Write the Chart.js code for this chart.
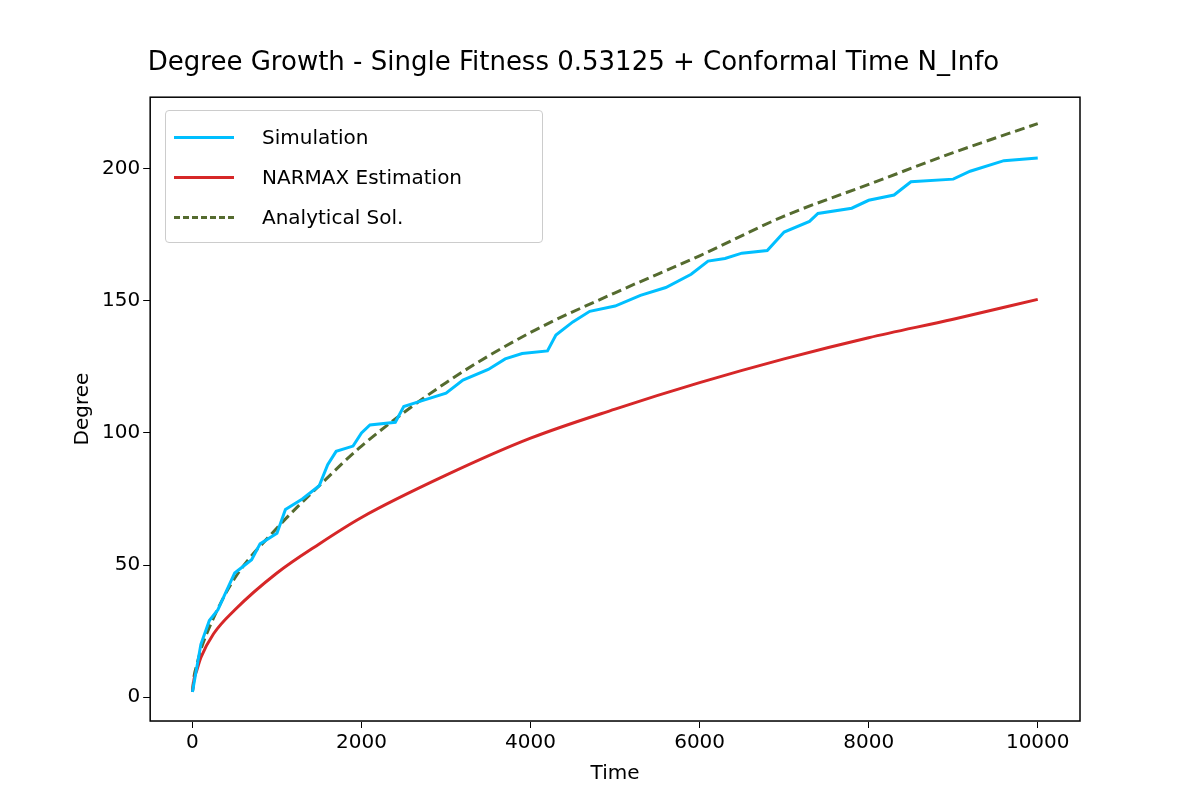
<!DOCTYPE html>
<html>
<head>
<meta charset="utf-8">
<script src="https://cdn.jsdelivr.net/npm/chart.js@4/dist/chart.umd.min.js"></script>
<style>
  body { margin: 0; background: #fff; }
  #wrap { position: relative; width: 1200px; height: 800px; }
  #legend { position: absolute; left: 165px; top: 110px; width: 378px; height: 133px;
    border: 1px solid #ccc; border-radius: 4px; background: rgba(255,255,255,0.85);
    font-family: "DejaVu Sans", sans-serif; font-size: 20px; color: #000; box-sizing: border-box; padding-top: 6px; }
  .row { display: flex; align-items: center; height: 40px; }
  .sw { width: 60px; margin: 0 28px 0 8px; border-top: 3px solid; }
</style>
</head>
<body>
<div id="wrap">
  <canvas id="chart" width="1200" height="800"></canvas>
  <div id="legend">
    <div class="row"><span class="sw" style="border-color:#00bfff"></span>Simulation</div>
    <div class="row"><span class="sw" style="border-color:#d62728"></span>NARMAX Estimation</div>
    <div class="row"><span class="sw" style="border-color:#556b2f;border-top-style:dashed"></span>Analytical Sol.</div>
  </div>
</div>
<script>
// values
const simTime = [0,100,200,300,400,500,700,800,1000,1100,1300,1500,1600,1700,1900,2000,2100,2400,2500,2700,3000,3200,3500,3700,3900,4200,4300,4500,4700,5000,5300,5600,5900,6100,6300,6500,6800,7000,7300,7400,7800,8000,8300,8500,9000,9200,9600,10000];
const simDegree = [2,20,29,33,40,47,52,58,62,71,75,80,88,93,95,100,103,104,110,112,115,120,124,128,130,131,137,142,146,148,152,155,160,165,166,168,169,176,180,183,185,188,190,195,196,199,203,204];

const modelTime = [0,20,50,100,250,500,1000,1500,2000,3000,4000,5000,6000,7000,8000,9000,10000];
const narmaxDegree = [2,7,10,15,24,33,47,58,68,84,98,109,119,128,136,143,150.5];
const analyticDegree = [2,8,12,18,30,45,64,80,95,119,138,153,167,182,194,206,217];

const xTicks = [0,2000,4000,6000,8000,10000];
const yTicks = [0,50,100,150,200];

const toXY = (xs, ys) => xs.map((x, i) => ({ x: x, y: ys[i] }));

const frame = {
  id: "frame",
  afterDraw(c) {
    const a = c.chartArea, ctx = c.ctx;
    ctx.save();
    ctx.strokeStyle = "#000";
    ctx.lineWidth = 1.5;
    ctx.strokeRect(a.left, a.top, a.right - a.left, a.bottom - a.top);
    ctx.restore();
  }
};

const font = { family: "DejaVu Sans", size: 20 };

new Chart(document.getElementById("chart").getContext("2d"), {
  type: "line",
  data: {
    datasets: [
      { label: "Simulation", data: toXY(simTime, simDegree), borderColor: "#00bfff", borderWidth: 3, pointRadius: 0, fill: false },
      { label: "NARMAX Estimation", data: toXY(modelTime, narmaxDegree), borderColor: "#d62728", borderWidth: 3, cubicInterpolationMode: "monotone", pointRadius: 0, fill: false },
      { label: "Analytical Sol.", data: toXY(modelTime, analyticDegree), borderColor: "#556b2f", borderWidth: 3, borderDash: [10, 5], cubicInterpolationMode: "monotone", pointRadius: 0, fill: false }
    ]
  },
  options: {
    responsive: false,
    animation: false,
    layout: { padding: { left: 67, right: 120, top: 10, bottom: 10 } },
    plugins: {
      legend: { display: false },
      title: { display: true, text: "Degree Growth - Single Fitness 0.53125 + Conformal Time N_Info",
        color: "#000", font: { family: "DejaVu Sans", size: 26, weight: "normal" }, padding: { top: 38, bottom: 18 } }
    },
    scales: {
      x: {
        type: "linear", min: -500, max: 10500,
        afterBuildTicks: s => { s.ticks = xTicks.map(v => ({ value: v })); },
        ticks: { color: "#000", font: font, maxRotation: 0, callback: v => String(v) },
        grid: { drawOnChartArea: false, color: "#000", tickLength: 7 },
        title: { display: true, text: "Time", color: "#000", font: font }
      },
      y: {
        min: -9, max: 227,
        afterBuildTicks: s => { s.ticks = yTicks.map(v => ({ value: v })); },
        ticks: { color: "#000", font: font, callback: v => String(v) },
        grid: { drawOnChartArea: false, color: "#000", tickLength: 7 },
        title: { display: true, text: "Degree", color: "#000", font: font }
      }
    }
  },
  plugins: [frame]
});
</script>
</body>
</html>
